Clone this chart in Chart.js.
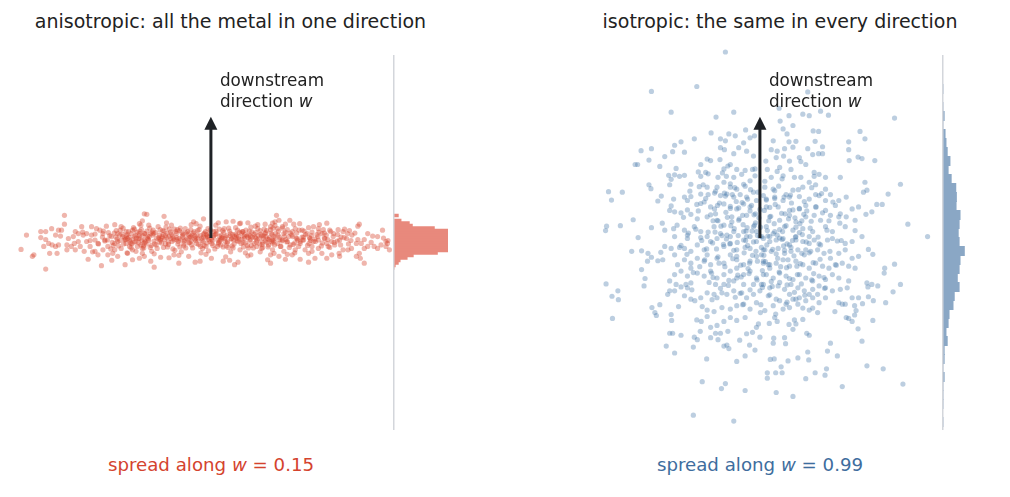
<!DOCTYPE html>
<html>
<head>
<meta charset="utf-8">
<script src="https://cdn.jsdelivr.net/npm/chart.js@4.4.1/dist/chart.umd.min.js"></script>
<style>
  body { margin: 0; background: #fff; width: 1010px; height: 497px; overflow: hidden; position: relative; font-family: 'DejaVu Sans', sans-serif; }
  canvas { position: absolute; }
  .lbl { position: absolute; line-height: 22px; white-space: nowrap; transform: translateX(-50%); }
  .ttl { font-size: 19px; color: #222; top: 10px; }
  .note { font-size: 18.2px; top: 454px; }
</style>
</head>
<body>
<div class="lbl ttl" style="left:230.5px">anisotropic: all the metal in one direction</div>
<div class="lbl ttl" style="left:780px">isotropic: the same in every direction</div>
<div class="lbl note" style="left:211px;color:#d4432e">spread along <i>w</i> = 0.15</div>
<div class="lbl note" style="left:760px;color:#3e6d9e">spread along <i>w</i> = 0.99</div>

<canvas id="scatL" width="378" height="400" style="left:15px;top:40px"></canvas>
<canvas id="histL" width="55" height="400" style="left:393px;top:40px"></canvas>
<canvas id="scatR" width="378" height="400" style="left:565px;top:40px"></canvas>
<canvas id="histR" width="55" height="400" style="left:942px;top:40px"></canvas>

<script>
// --- data: [across, w] pairs
var anisoPoints = [
  // far left, sparse
  [-2.97,0.46],[-2.97,0.28],[-3.74,0.06],[-3.85,-0.23],[-3.62,-0.37],[-3.59,-0.34],[-3.35,-0.63],[-3.45,0.13],[-3.35,0.13],
  [-3.23,0.19],[-3.09,0.16],[-3.03,0.16],[-3.15,0.06],[-3.05,0.04],[-3.45,0.01],[-3.35,-0.03],[-3.29,-0.11],[-3.22,-0.14],
  [-3.39,-0.17],[-3.15,-0.17],[-3.09,-0.14],[-3.27,-0.31],[-3.12,-0.31],[-2.92,-0.14],[-2.89,-0.01],[-2.75,0.13],[-2.79,0.03],
  [-2.69,0.09],[-2.62,0.23],[-2.59,0.06],[-2.77,-0.11],[-2.75,-0.24],[-2.65,-0.17],[-2.57,-0.27],[-2.49,-0.43],[-2.42,0.23],
  [-2.32,0.19],[-2.25,0.16],[-2.12,0.24],[-2.19,0.09],[-2.42,0.06],[-2.35,-0.04],[-2.52,-0.07],[-2.29,-0.11],[-2.15,-0.04],
  [-2.02,0.03],[-2.09,-0.17],[-2.19,-0.24],[-2.35,-0.27],[-1.95,-0.11],[-1.89,0.09],[-1.82,0.23],[-1.72,0.13],[-1.75,-0.04],
  [-1.82,-0.21],[-1.99,-0.31],[-1.89,-0.37],[-2.01,-0.45],[-1.69,-0.31],[-1.74,-0.54],[-1.59,-0.44],[-2.22,-0.56],[-1.62,-0.11],
  [-1.55,0.03],[-1.59,0.16],[-1.45,0.09],[-1.42,0.26],[-1.39,0.35],[-1.35,0.49],[-1.49,-0.17],[-1.39,-0.31],[-1.45,-0.41],
  [-1.35,-0.04],[-1.65,-0.17],[-1.52,-0.27],[-2.45,-0.17],[-2.29,-0.34],[-1.95,-0.24],[-2.09,-0.34],[-2.52,0.09],[-2.69,-0.07],
  [-2.83,-0.17],[-2.92,-0.24],[-1.89,-0.07],[-1.79,0.03],[-1.69,-0.01],[-1.62,0.09],[-1.52,-0.07],[-1.42,-0.14],[-1.72,-0.11],
  [-1.59,-0.24],[-1.45,-0.01],[-1.35,0.09],[-1.39,-0.21],
  [-2.05,0.05],[-1.98,-0.15],[-1.92,0.15],[-1.85,-0.05],[-1.78,0.20],[-1.66,0.02],[-1.58,-0.02],[-1.50,0.12],[-1.46,-0.10],
  [-1.40,-0.05],[-1.55,0.18],[-1.62,-0.20],[-1.70,0.07],[-2.20,0.02],[-2.45,-0.05],[-2.60,0.12],
  // middle, outliers
  [-1.30,0.48],[-0.95,0.44],[-0.15,0.39],[-0.35,0.33],[0.31,0.33],[0.75,0.31],[1.10,0.28],[0.58,0.29],[-1.35,-0.37],
  [-1.22,-0.47],[-1.15,-0.59],[-1.02,-0.39],[-0.65,-0.51],[-0.32,-0.49],[-0.22,-0.47],[0.25,-0.47],[0.38,-0.45],[0.55,-0.49],
  [0.48,-0.54],[0.81,-0.34],[1.15,-0.44],[1.21,-0.34],[-0.75,-0.34],[-0.45,-0.37],[0.01,-0.41],
  // middle, dense band
  [-1.38,0.05],[-1.33,-0.08],[-1.30,0.14],[-1.27,-0.02],[-1.24,0.20],[-1.21,-0.15],[-1.18,0.06],[-1.15,-0.06],[-1.12,0.11],
  [-1.09,-0.21],[-1.06,0.01],[-1.03,0.17],[-1.00,-0.10],[-0.97,0.07],[-0.94,-0.03],[-0.91,0.22],[-0.88,-0.18],[-0.85,0.03],
  [-0.82,0.12],[-0.79,-0.07],[-0.76,0.00],[-0.73,-0.25],[-0.70,0.09],[-0.67,-0.12],[-0.64,0.15],[-0.61,-0.04],[-0.58,0.05],
  [-0.55,-0.16],[-0.52,0.19],[-0.49,-0.01],[-0.46,0.08],[-0.43,-0.09],[-0.40,0.02],[-0.37,-0.20],[-0.34,0.13],[-0.31,-0.05],
  [-0.28,0.06],[-0.25,-0.13],[-0.22,0.24],[-0.19,0.00],[-0.16,-0.08],[-0.13,0.10],[-0.10,-0.17],[-0.07,0.04],[-0.04,-0.03],
  [-0.01,0.16],[0.02,-0.11],[0.05,0.02],[0.08,-0.22],[0.11,0.09],[0.14,-0.04],[0.17,0.18],[0.20,-0.14],[0.23,0.01],
  [0.26,0.11],[0.29,-0.07],[0.32,0.05],[0.35,-0.19],[0.38,0.14],[0.41,-0.02],[0.44,0.07],[0.47,-0.12],[0.50,0.21],
  [0.53,-0.05],[0.56,0.03],[0.59,-0.24],[0.62,0.10],[0.65,-0.09],[0.68,0.00],[0.71,0.16],[0.74,-0.15],[0.77,0.06],
  [0.80,-0.03],[0.83,0.12],[0.86,-0.20],[0.89,0.02],[0.92,-0.08],[0.95,0.19],[0.98,-0.01],[1.01,0.08],[1.04,-0.13],
  [1.07,0.04],[1.10,-0.06],[1.13,0.15],[1.16,-0.18],[1.19,0.01],[1.22,0.10],[1.25,-0.10],
  [-1.36,-0.20],[-1.29,0.00],[-1.22,0.09],[-1.14,-0.12],[-1.07,0.23],[-0.99,0.03],[-0.92,-0.12],[-0.84,0.18],[-0.77,-0.22],
  [-0.69,0.01],[-0.62,0.20],[-0.54,-0.06],[-0.47,0.13],[-0.39,-0.14],[-0.32,0.04],[-0.24,0.17],[-0.17,-0.21],[-0.09,0.07],
  [-0.02,-0.07],[0.06,0.13],[0.13,-0.17],[0.21,0.06],[0.28,-0.01],[0.36,0.20],[0.43,-0.16],[0.51,0.00],[0.58,0.12],
  [0.66,-0.18],[0.73,0.04],[0.81,0.22],[0.88,-0.11],[0.96,0.05],[1.03,-0.21],[1.11,0.11],[1.18,-0.03],[1.26,0.20],
  [-1.31,-0.12],[-1.17,0.16],[-1.02,-0.04],[-0.86,-0.08],[-0.71,0.13],[-0.56,0.08],[-0.41,0.17],[-0.26,-0.02],[-0.11,0.13],
  [0.04,-0.15],[0.18,0.03],[0.33,-0.10],[0.48,0.03],[0.63,-0.02],[0.78,0.14],[0.93,-0.17],[1.08,0.18],[1.23,-0.07],
  [-1.26,0.26],[-0.60,-0.28],[0.10,0.26],[0.70,-0.30],[-0.20,-0.30],[0.95,0.27],
  [-2.35,0.08],[-2.28,-0.12],[-2.18,0.14],[-2.10,-0.04],[-2.03,-0.22],[-1.96,0.10],[-1.90,-0.02],[-1.84,0.16],[-1.77,-0.12],
  [-1.71,0.04],[-1.64,-0.08],[-1.57,0.21],[-1.51,0.00],[-1.44,0.14],[-1.37,-0.16],[-1.34,0.09],[-1.26,-0.05],[-1.19,0.12],
  [-1.11,-0.14],[-1.04,0.06],[-0.96,-0.19],[-0.89,0.10],[-0.81,-0.01],[-0.74,0.18],[-0.66,-0.07],[-0.59,0.11],[-0.51,-0.20],
  [-0.44,0.01],[-0.36,0.10],[-0.29,-0.11],[-0.21,0.05],[-0.14,-0.15],[-0.06,0.19],[0.01,-0.02],[0.09,0.07],[0.16,-0.09],
  [0.24,0.15],[0.31,-0.16],[0.39,0.04],[0.46,-0.04],[0.54,0.16],[0.61,-0.11],[0.69,0.07],[0.76,-0.20],[0.84,0.02],
  [0.91,0.11],[0.99,-0.12],[1.06,0.00],[1.14,-0.09],[1.21,0.17],[1.29,-0.14],[1.36,0.06],[1.44,-0.06],[1.51,0.12],
  [1.59,-0.19],[1.66,0.03],[1.74,0.10],[1.81,-0.07],[1.89,0.14],[1.96,-0.15],[2.04,0.05],[2.11,-0.02],[2.19,0.12],
  [2.26,-0.10],[2.34,0.06],[2.41,-0.19],[2.49,0.09],[2.56,-0.06],[2.64,0.02],[2.71,0.18],[2.79,-0.12],[2.86,0.06],
  [-1.00,0.00],[-0.70,-0.03],[-0.40,-0.06],[-0.10,0.01],[0.20,-0.03],[0.50,0.08],[0.80,0.04],[1.10,0.09],[1.40,-0.03],
  [1.70,-0.10],[2.00,0.01],[2.30,0.00],[-1.20,-0.27],[-0.80,0.26],[-0.30,0.29],[0.40,-0.28],[0.90,0.24],[1.30,0.25],
  [1.70,-0.30],[2.20,0.27],[-0.05,-0.26],[0.60,0.30],[-0.95,0.14],[-0.55,-0.12],[-0.15,0.08],[0.25,-0.18],[0.65,0.13],
  [1.05,-0.19],[1.45,0.20],[1.85,0.02],[-1.55,-0.08],[-1.75,0.00],
  [-2.15,-0.06],[-2.08,0.11],[-2.00,-0.09],[-1.93,0.02],[-1.87,-0.16],[-1.80,0.08],[-1.73,-0.03],[-1.67,0.13],[-1.60,-0.12],
  [-1.53,0.06],[-1.47,-0.01],[-1.41,0.17],[-1.35,-0.10],[-1.28,0.04],[-1.23,-0.19],[-1.16,0.09],[-1.10,0.00],[-1.04,-0.08],
  [-0.98,0.15],[-0.92,0.05],[-0.86,-0.13],[-0.80,0.08],[-0.75,-0.04],[-0.68,0.17],[-0.63,-0.18],[-0.57,0.02],[-0.50,0.10],
  [-0.45,-0.10],[-0.38,0.06],[-0.33,-0.02],[-0.27,0.15],[-0.21,-0.17],[-0.15,0.02],[-0.08,-0.10],[-0.03,0.09],[0.03,-0.05],
  [0.10,0.14],[0.15,-0.12],[0.22,0.00],[0.27,0.19],[0.34,-0.07],[0.40,0.09],[0.45,-0.20],[0.52,0.05],[0.57,-0.02],
  [0.64,0.13],[0.70,-0.10],[0.75,0.01],[0.82,-0.15],[0.87,0.08],[0.94,-0.04],[1.00,0.15],[1.05,-0.09],[1.12,0.03],
  [1.17,-0.14],[1.24,0.07],[1.30,-0.01],[1.37,0.14],[1.42,-0.17],[1.49,0.03],[1.54,-0.08],[1.61,0.10],[1.67,-0.13],
  [1.73,0.00],[1.79,0.16],[1.86,-0.04],[1.92,0.07],[1.99,-0.11],[2.05,0.12],[2.12,-0.07],[2.17,0.03],[2.24,-0.16],
  [2.30,0.10],[2.37,-0.03],[2.43,0.13],[2.50,-0.09],[2.57,0.07],[2.63,-0.14],[2.70,0.01],[2.77,0.09],[2.84,-0.05],
  [2.92,0.10],
  [-1.05,-0.02],[-0.90,0.01],[-0.78,0.04],[-0.65,-0.01],[-0.52,-0.04],[-0.42,0.03],[-0.30,0.00],[-0.18,-0.05],[-0.06,0.02],
  [0.06,0.05],[0.18,-0.06],[0.30,0.02],[0.42,-0.01],[0.55,-0.07],[0.67,0.04],[0.79,-0.05],[0.91,0.00],[1.03,0.05],
  [1.15,-0.02],[1.27,-0.06],[1.39,0.02],[1.52,-0.03],[1.64,0.06],[1.76,-0.04],[1.88,0.02],[2.02,-0.05],[2.15,0.07],
  [-1.25,0.03],[-1.45,0.05],[-1.65,-0.04],[-1.85,0.06],
  [-1.95,0.27],[-1.70,-0.30],[-1.45,0.29],[-1.15,-0.32],[-0.90,0.31],[-0.65,-0.35],[-0.40,0.27],[-0.10,-0.33],[0.15,0.31],
  [0.45,0.34],[0.75,-0.36],[1.00,-0.28],[1.25,0.30],[1.55,-0.33],[1.80,0.29],[2.05,-0.27],[2.35,0.30],[2.60,-0.31],
  [-2.40,-0.28],[0.30,-0.38],[-0.85,-0.40],[1.60,0.36],
  // right part
  [1.33,0.46],[1.38,0.36],[1.30,0.33],[1.51,0.28],[1.45,0.23],[1.68,0.28],[1.71,0.19],[1.85,0.16],[1.98,0.21],
  [2.08,0.23],[2.18,0.19],[2.28,0.17],[2.41,0.16],[2.58,0.17],[2.68,0.13],[2.81,0.15],[2.98,0.24],[3.01,0.28],
  [3.18,0.09],[3.28,0.04],[3.38,0.03],[3.48,0.16],[3.55,-0.07],[3.59,-0.05],[3.25,-0.09],[3.11,-0.03],[2.98,-0.03],
  [3.05,-0.11],[2.95,-0.11],[2.85,-0.21],[2.78,-0.24],[2.68,-0.24],[3.18,-0.17],[3.31,-0.17],[3.38,-0.21],[3.45,-0.14],
  [3.55,-0.17],[3.11,-0.21],[3.01,-0.31],[2.95,-0.37],[3.03,-0.41],[3.11,-0.51],[2.61,-0.37],[2.45,-0.34],[2.35,-0.41],
  [2.25,-0.31],[2.11,-0.41],[1.98,-0.49],[1.81,-0.43],[1.65,-0.34],[1.51,-0.43],[1.38,-0.37],[1.21,-0.51],[1.25,-0.24],
  [1.35,-0.11],[1.45,-0.04],[1.58,0.03],[1.75,-0.01],[1.88,-0.04],[2.01,-0.01],[2.18,-0.04],[2.31,-0.01],[2.48,0.03],
  [2.61,-0.04],[2.75,-0.01],[1.31,0.09],[1.48,0.09],[1.61,-0.14],[1.78,-0.17],[1.91,-0.24],[2.05,-0.17],[2.18,-0.21],
  [2.38,-0.17],[2.51,-0.14],[1.25,-0.04],[1.21,0.23],[2.45,-0.07],[3.58,-0.11],[3.62,-0.24],[3.50,0.00],
  [1.28,0.03],[1.41,-0.17],[1.55,-0.07],[1.65,0.13],[1.81,-0.11],[1.95,0.09],[2.08,-0.07],[2.25,0.09],[2.35,-0.11],
  [1.28,-0.31],[1.48,-0.27],[1.71,-0.24],[1.98,-0.31],[1.55,0.17],[1.35,0.19]
];

var isoPoints = [
  // upper left
  [-0.70,3.77],[-2.20,2.97],[-1.28,3.07],[-1.80,2.55],[-0.53,2.55],[-0.89,2.45],[-0.99,2.13],[-0.63,2.11],[-0.29,2.19],
  [-1.33,2.01],[-1.60,1.95],[-1.73,1.88],[-2.20,1.81],[-2.41,1.77],[-1.93,1.65],[-1.77,1.75],[-1.53,1.74],[-0.80,2.01],
  [-0.70,1.97],[-0.50,2.07],[-0.33,1.93],[-0.20,2.03],[-0.11,2.07],[-0.43,1.83],[-0.53,1.71],[-0.72,1.79],[-0.80,1.83],
  [-1.07,1.60],[-1.00,1.57],[-1.20,1.49],[-0.81,1.59],[-0.60,1.49],[-0.27,1.76],[-0.13,1.66],[-2.53,1.49],[-2.48,1.49],
  [-2.25,1.58],[-2.03,1.45],[-1.70,1.41],[-1.85,1.27],[-1.73,1.28],[-1.63,1.25],[-1.53,1.27],[-1.25,1.34],[-1.10,1.33],
  [-0.85,1.23],[-0.73,1.40],[-0.65,1.46],[-0.47,1.39],[-0.30,1.37],[-0.15,1.39],[-0.68,1.25],[-0.53,1.23],[-0.37,1.29],
  [-2.25,1.08],[-2.21,1.00],[-1.80,1.19],[-1.83,1.08],[-1.40,1.09],[-1.23,1.04],[-1.07,1.03],[-0.87,1.03],[-0.73,1.13],
  [-0.60,1.03],[-0.47,0.99],[-0.33,1.09],[-0.20,1.16],[-0.10,1.26],[-3.07,0.94],[-2.79,0.93],[-3.01,0.77],[-2.00,0.85],
  [-2.07,0.75],[-1.75,0.79],[-1.53,0.83],[-1.40,0.84],[-1.20,0.89],[-1.05,0.88],[-0.92,0.91],[-0.80,0.86],[-0.67,0.89],
  [-0.53,0.83],[-0.40,0.88],[-0.27,0.83],[-0.13,0.93],[-0.07,0.76],[-1.80,0.65],[-1.73,0.53],[-1.83,0.56],[-1.47,0.76],
  [-1.47,0.57],[-1.28,0.68],[-1.13,0.73],[-1.00,0.63],[-0.90,0.49],[-0.73,0.69],[-0.60,0.64],[-0.47,0.59],[-0.33,0.69],
  [-0.20,0.63],[-0.09,0.49],[-3.11,0.24],[-3.13,0.15],[-2.83,0.25],[-2.57,0.37],[-1.98,0.30],[-1.93,0.16],[-1.75,0.19],
  [-2.20,0.21],[-1.60,0.51],[-1.40,0.48],[-1.27,0.39],[-1.07,0.43],[-0.87,0.36],[-0.73,0.26],[-0.57,0.43],[-0.43,0.36],
  [-0.27,0.46],[-0.13,0.23],[-2.47,0.01],[-1.53,0.16],[-1.47,0.06],[-1.33,0.23],[-1.20,0.13],[-1.07,0.03],[-0.93,0.23],
  [-0.80,0.09],[-0.67,0.06],[-0.53,0.13],[-0.33,0.13],[-0.20,0.03],[-0.07,0.13],[-1.73,0.03],[-1.68,0.26],
  // upper right
  [0.97,2.96],[0.39,2.63],[0.59,2.48],[0.41,2.37],[0.67,2.28],[0.87,2.51],[1.00,2.48],[1.23,2.57],[1.39,2.49],
  [2.73,2.43],[0.47,2.21],[0.55,2.11],[1.08,2.17],[1.19,2.16],[0.27,1.97],[0.59,1.95],[0.73,1.96],[1.12,1.96],
  [1.80,1.95],[2.03,2.16],[2.13,2.01],[0.23,1.79],[0.35,1.76],[0.50,1.81],[0.67,1.84],[0.97,1.81],[1.27,1.85],
  [1.80,1.79],[1.81,1.57],[1.99,1.64],[2.07,1.61],[2.33,1.57],[1.07,1.69],[1.19,1.71],[1.27,1.71],[0.12,1.56],
  [0.33,1.63],[0.48,1.66],[0.60,1.56],[0.80,1.63],[0.83,1.55],[0.15,1.39],[0.40,1.43],[0.63,1.39],[0.93,1.49],
  [1.10,1.33],[1.20,1.29],[1.33,1.23],[1.63,1.23],[0.23,1.23],[0.47,1.26],[0.70,1.23],[0.83,1.23],[1.00,1.13],
  [0.10,1.03],[0.27,0.99],[0.53,0.88],[0.67,0.97],[0.87,1.03],[1.13,1.08],[1.33,0.99],[1.43,0.88],[1.60,0.76],
  [1.75,0.83],[2.13,1.13],[2.10,0.93],[2.17,0.97],[2.60,0.89],[2.85,1.09],[0.13,0.79],[0.30,0.83],[0.47,0.76],
  [0.60,0.83],[0.80,0.84],[1.00,0.79],[1.20,0.86],[1.33,0.76],[0.13,0.63],[0.37,0.63],[0.60,0.56],[0.80,0.59],
  [0.93,0.66],[1.13,0.63],[1.33,0.56],[1.53,0.66],[1.63,0.49],[1.87,0.59],[2.00,0.63],[2.15,0.48],[2.27,0.53],
  [2.37,0.68],[2.48,0.68],[0.20,0.43],[0.40,0.36],[0.60,0.46],[0.73,0.33],[0.93,0.43],[1.10,0.46],[1.23,0.36],
  [1.43,0.46],[1.60,0.43],[1.75,0.43],[1.93,0.36],[3.00,0.28],[0.13,0.23],[0.30,0.13],[0.50,0.23],[0.67,0.16],
  [0.87,0.19],[1.07,0.13],[1.33,0.23],[1.47,0.13],[1.73,0.23],[1.93,0.15],[2.07,0.03],[3.40,0.03],[0.20,0.03],
  [0.40,0.00],[1.00,0.03],[0.73,0.03],
  // lower left
  [-3.12,-0.93],[-3.00,-1.18],[-2.88,-1.07],[-2.87,-1.25],[-2.99,-1.63],[-2.60,-0.27],[-2.40,-0.26],[-2.40,-0.64],[-2.33,-0.82],
  [-2.35,-0.97],[-2.27,-0.31],[-2.20,-0.39],[-2.28,-0.47],[-2.07,-0.46],[-1.97,-0.44],[-1.93,-0.17],[-2.01,-0.29],[-1.80,-0.21],
  [-1.63,-0.19],[-2.19,-1.41],[-2.13,-1.51],[-2.10,-1.57],[-2.03,-1.35],[-1.80,-1.55],[-1.65,-1.39],[-1.79,-1.67],[-1.83,-1.93],
  [-1.77,-1.93],[-1.60,-1.97],[-1.90,-2.19],[-1.73,-2.33],[-1.33,-2.01],[-1.35,-2.21],[-1.27,-2.06],[-1.21,-1.89],[-1.28,-1.66],
  [-1.19,-1.69],[-1.07,-1.59],[-1.08,-2.45],[-1.00,-2.02],[-0.90,-1.93],[-0.85,-2.06],[-0.80,-1.93],[-0.65,-1.89],[-0.73,-2.19],
  [-0.67,-2.17],[-0.63,-2.24],[-0.47,-2.50],[-0.41,-2.07],[-0.30,-2.39],[-0.21,-2.17],[-0.10,-2.27],[-0.27,-1.94],[-0.15,-1.91],
  [-0.07,-1.81],[-0.03,-1.74],[0.01,-1.51],[-0.30,-1.61],[-0.47,-1.67],[-0.60,-1.61],[-0.73,-1.69],[-0.87,-1.77],[-1.00,-1.81],
  [-1.17,-1.39],[-1.07,-1.46],[-0.93,-1.49],[-0.77,-1.41],[-0.60,-1.44],[-0.47,-1.37],[-0.33,-1.34],[-0.20,-1.44],[-0.07,-1.31],
  [-1.17,-2.91],[-0.70,-2.95],[-0.78,-3.05],[-0.30,-3.09],[-1.35,-3.59],[-0.53,-3.71],
  [-1.83,-1.07],[-1.87,-1.14],[-1.73,-1.07],[-1.60,-0.99],[-1.50,-0.94],[-1.40,-0.91],[-1.53,-1.17],[-1.40,-1.24],[-1.32,-1.27],
  [-1.20,-1.21],[-1.07,-1.11],[-0.93,-1.14],[-0.87,-1.21],[-0.77,-1.11],[-0.67,-1.14],[-0.53,-1.07],[-0.37,-1.11],[-0.27,-1.21],
  [-0.13,-1.14],[0.00,-1.07],[-1.73,-0.74],[-1.60,-0.67],[-1.47,-0.77],[-1.40,-0.61],[-1.27,-0.71],[-1.13,-0.77],[-1.00,-0.67],
  [-0.87,-0.81],[-0.73,-0.74],[-0.60,-0.67],[-0.47,-0.81],[-0.33,-0.74],[-0.20,-0.67],[-0.07,-0.81],[0.07,-0.74],[-1.67,-0.54],
  [-1.53,-0.44],[-1.40,-0.51],[-1.27,-0.41],[-1.13,-0.47],[-1.00,-0.54],[-0.87,-0.41],[-0.73,-0.51],[-0.60,-0.34],[-0.47,-0.44],
  [-0.33,-0.54],[-0.20,-0.47],[-0.07,-0.37],[0.07,-0.51],[-1.53,-0.21],[-1.40,-0.27],[-1.27,-0.14],[-1.13,-0.24],[-1.00,-0.07],
  [-0.87,-0.01],[-0.73,-0.17],[-0.60,-0.11],[-0.47,-0.24],[-0.33,-0.04],[-0.20,-0.21],[-0.07,-0.07],[0.07,-0.24],[-1.47,-0.01],
  [-1.20,0.01],[-0.60,0.03],[-0.27,0.03],[0.00,0.03],[-1.83,-0.87],[-1.70,-0.94],[-1.47,-1.01],[-0.90,-0.94],[-0.73,-0.94],
  [-0.53,-0.87],[-0.33,-0.94],[-0.13,-0.94],[0.03,-0.94],[-0.47,-0.61],[-1.07,-0.34],[-1.73,-0.34],
  // lower right
  [2.20,-0.23],[2.29,-0.33],[2.53,-0.61],[2.52,-0.71],[2.73,-0.53],[2.85,-0.94],[2.70,-1.09],[2.55,-1.31],[2.39,-0.97],
  [2.27,-0.94],[2.17,-0.91],[2.19,-0.99],[2.00,-1.21],[2.30,-1.27],[2.20,-1.19],[2.08,-1.33],[1.92,-1.37],[1.95,-1.47],
  [1.87,-1.21],[1.73,-1.34],[1.60,-1.31],[1.67,-1.34],[1.52,-1.49],[1.75,-1.61],[1.80,-1.63],[1.87,-1.69],[1.92,-1.56],
  [1.99,-1.84],[2.29,-1.67],[2.07,-2.09],[1.43,-2.13],[1.37,-2.29],[1.57,-2.39],[0.97,-2.31],[0.99,-2.47],[0.77,-2.43],
  [0.57,-2.49],[0.21,-2.46],[0.29,-2.45],[0.43,-2.61],[0.45,-2.73],[0.15,-2.73],[0.15,-2.84],[0.32,-2.73],[0.93,-2.85],
  [1.12,-2.73],[1.32,-2.78],[1.35,-2.65],[1.67,-3.01],[2.17,-2.59],[2.50,-2.65],[2.90,-2.96],[0.33,-3.13],[0.67,-3.21],
  [0.95,-1.93],[1.00,-1.97],[0.28,-2.03],[0.27,-2.13],[0.50,-2.02],[0.52,-2.14],[0.87,-1.65],[0.70,-1.66],[0.73,-1.74],
  [0.67,-1.85],[0.59,-1.75],[0.32,-1.54],[0.30,-1.61],[0.19,-1.73],[0.35,-1.69],[0.47,-1.44],[0.60,-1.41],[0.77,-1.34],
  [0.87,-1.42],[1.00,-1.46],[1.07,-1.42],[1.17,-1.51],[1.20,-1.31],[1.33,-1.21],[1.07,-1.21],[0.93,-1.27],[0.80,-1.21],
  [0.67,-1.24],[0.53,-1.34],[0.40,-1.27],[0.27,-1.37],[0.10,-1.47],[0.00,-2.01],
  [0.07,-0.01],[0.20,-0.07],[0.33,-0.04],[0.47,-0.01],[0.60,-0.14],[0.73,-0.04],[0.87,-0.07],[1.00,-0.11],[1.10,-0.04],
  [1.23,-0.14],[1.37,-0.04],[1.47,-0.01],[1.57,-0.06],[1.73,-0.11],[1.87,-0.07],[0.10,-0.24],[0.23,-0.27],[0.37,-0.21],
  [0.50,-0.31],[0.63,-0.27],[0.77,-0.24],[0.90,-0.34],[1.03,-0.27],[1.17,-0.24],[1.30,-0.31],[1.43,-0.41],[1.60,-0.31],
  [1.73,-0.24],[1.87,-0.41],[2.00,-0.37],[0.07,-0.47],[0.20,-0.54],[0.33,-0.51],[0.47,-0.44],[0.60,-0.57],[0.73,-0.47],
  [0.87,-0.54],[1.00,-0.61],[1.13,-0.51],[1.27,-0.57],[1.40,-0.61],[1.53,-0.54],[1.67,-0.51],[1.80,-0.57],[1.93,-0.61],
  [0.13,-0.74],[0.27,-0.81],[0.40,-0.71],[0.53,-0.77],[0.67,-0.84],[0.80,-0.74],[0.93,-0.81],[1.07,-0.87],[1.20,-0.77],
  [1.33,-0.84],[1.47,-0.74],[1.60,-0.81],[1.80,-0.87],[0.07,-0.94],[0.20,-1.01],[0.37,-0.97],[0.50,-1.04],[0.63,-0.94],
  [0.77,-1.01],[0.90,-1.07],[1.07,-1.04],[1.20,-0.97],[1.33,-1.01],[1.47,-1.07],[1.63,-1.04],[1.77,-1.01],[0.17,-1.17],
  [0.33,-1.24],[0.60,-1.14],[0.73,-1.24],[1.00,-1.14],[1.17,-1.14],[0.20,-0.61],[0.03,-0.34],
  // centre, extra density
  [-0.95,0.35],[-0.88,-0.22],[-0.82,0.71],[-0.77,0.05],[-0.71,-0.58],[-0.66,0.42],[-0.61,-0.12],[-0.56,0.88],[-0.52,0.19],
  [-0.47,-0.37],[-0.43,0.61],[-0.38,-0.79],[-0.34,0.27],[-0.29,-0.05],[-0.25,0.79],[-0.21,-0.51],[-0.16,0.14],[-0.12,0.47],
  [-0.08,-0.27],[-0.04,0.93],[0.01,0.22],[0.05,-0.66],[0.09,0.56],[0.14,-0.14],[0.18,0.35],[0.23,-0.88],[0.27,0.09],
  [0.31,0.68],[0.36,-0.41],[0.40,0.17],[0.45,-0.03],[0.49,0.83],[0.54,-0.60],[0.58,0.39],[0.63,-0.19],[0.67,0.57],
  [0.72,0.02],[0.76,-0.74],[0.81,0.29],[0.85,-0.31],[0.90,0.74],[0.94,-0.08],
  [-1.12,-0.44],[-1.05,0.12],[-0.98,-0.71],[-0.92,0.59],[-0.85,-0.38],[-0.79,0.24],[-0.72,0.91],[-0.68,-0.02],[-0.63,-0.86],
  [-0.57,0.33],[-0.53,-0.25],[-0.48,0.74],[-0.44,0.05],[-0.39,-0.55],[-0.35,0.46],[-0.30,-0.19],[-0.26,0.21],[-0.22,-0.72],
  [-0.17,0.66],[-0.13,-0.08],[-0.09,0.31],[-0.05,-0.47],[0.00,0.58],[0.04,0.03],[0.08,-0.35],[0.13,0.77],[0.17,-0.54],
  [0.22,0.44],[0.26,-0.23],[0.30,0.96],[0.35,0.06],[0.39,-0.69],[0.44,0.50],[0.48,-0.16],[0.53,0.25],[0.57,-0.44],
  [0.62,0.87],[0.66,-0.05],[0.71,0.41],[0.75,-0.57],[0.80,0.11],[0.84,-0.93],[0.89,0.48],[0.93,-0.24],[1.02,0.20],
  [1.08,-0.50],[1.14,0.63],[1.20,-0.12],
  [-1.25,0.55],[-1.18,-0.05],[-1.10,0.80],[-1.03,-0.90],[-0.96,-0.10],[-0.90,0.95],[-0.60,1.10],[-0.30,1.05],[0.10,1.15],
  [0.45,1.20],[0.70,-1.10],[0.20,-1.15],[-0.20,-1.05],[-0.50,-1.20],[-0.80,-1.02],[1.25,0.90],[1.30,-0.80],[-1.35,-0.70],
  [1.05,1.02],[-1.20,1.25],[0.55,-1.30],[-0.10,1.40],[0.02,-1.35],[1.40,0.35],[-1.45,0.10],
  [-1.55,0.42],[-1.48,-0.33],[-1.42,0.95],[-1.38,-1.05],[-1.30,0.18],[-1.22,-0.58],[-1.15,1.08],[-1.08,-0.22],[-1.00,0.47],
  [-0.97,-1.25],[-0.91,0.12],[-0.86,0.66],[-0.83,-0.51],[-0.76,1.32],[-0.74,-0.13],[-0.69,0.52],[-0.64,-0.96],[-0.59,0.25],
  [-0.55,-0.42],[-0.51,1.02],[-0.46,-0.09],[-0.42,0.39],[-0.40,-1.12],[-0.36,0.72],[-0.32,-0.30],[-0.28,0.14],[-0.24,-0.62],
  [-0.19,0.98],[-0.15,-0.35],[-0.11,0.26],[-0.06,-0.85],[-0.02,0.41],[0.03,-0.19],[0.07,0.86],[0.11,-0.48],[0.16,0.04],
  [0.20,0.62],[0.25,-0.98],[0.29,0.29],[0.33,-0.32],[0.38,1.05],[0.42,-0.58],[0.46,0.13],[0.51,0.49],[0.55,-0.12],
  [0.60,-0.82],[0.64,0.71],[0.69,-0.36],[0.73,0.22],[0.78,0.98],[0.82,-0.52],[0.86,0.07],[0.91,-1.16],[0.95,0.55],
  [1.00,-0.30],[1.04,0.34],[1.09,-0.72],[1.13,0.88],[1.18,0.02],[1.22,-0.43],[1.27,0.51],[1.31,-1.02],[1.36,0.16],
  [1.42,-0.27],[1.48,0.73],[1.55,-0.55],[1.62,0.30],
  [-1.20,0.70],[-0.95,-0.80],[-0.70,0.85],[-0.45,-0.75],[-0.20,0.55],[0.05,-1.00],[0.30,0.80],[0.55,-0.95],[0.80,0.60],
  [1.05,-0.85],[-1.05,1.30],[-0.35,-1.35],[0.35,1.35],[1.10,1.25],[-1.60,-0.15],[1.65,-0.05],[-0.05,0.05],[0.15,0.15],
  [-0.25,-0.15],[0.50,-0.25],[-0.60,0.60],[0.85,0.35],[-0.85,0.35],[0.40,-0.90]
];

// marginal histograms of w (bin centre, count)
var anisoBinW = [0.45,0.40,0.35,0.30,0.25,0.20,0.15,0.10,0.05,0.00,-0.05,-0.10,-0.15,-0.20,-0.25,-0.30,-0.35,-0.40,-0.45,-0.50,-0.55,-0.60];
var anisoBinCount = [17,0,26,53,63,135,190,215,235,250,245,232,215,200,188,145,66,46,23,17,7,3];
var isoBinW = [2.98,2.80,2.62,2.44,2.26,2.08,1.90,1.72,1.54,1.36,1.18,1.00,0.82,0.64,0.46,0.28,0.10,-0.08,-0.26,
  -0.44,-0.62,-0.80,-0.98,-1.16,-1.34,-1.52,-1.70,-1.88,-2.06,-2.24,-2.42,-2.60,-2.78,-2.96,-3.14,-3.32,-3.50,-3.68];
var isoBinCount = [3,0,3,7,3,10,13,17,26,20,30,45,47,46,59,56,53,56,73,59,56,50,56,40,36,23,20,13,17,7,7,3,7,3,3,3,0,3];

var arrowLength = 2.46;

// --- axis ranges (data units)
var wRange = [-4.04, 3.96];
var spineW = [-3.84, 3.66];
var countMax = 180;

var RED = '214,69,48';
var BLUE = '59,110,165';

function toXY(pairs) {
    return pairs.map(function (p) { return { x: p[0], y: p[1] }; });
}

var arrowPlugin = {
    id: 'arrowNote',
    afterDatasetsDraw: function (chart) {
        var ctx = chart.ctx;
        var xs = chart.scales.x, ys = chart.scales.y;
        var x0 = xs.getPixelForValue(0);
        var yTail = ys.getPixelForValue(0);
        var yTip = ys.getPixelForValue(arrowLength);
        var head = 13;
        ctx.save();
        ctx.strokeStyle = '#1f2226';
        ctx.fillStyle = '#1f2226';
        ctx.lineWidth = 3;
        ctx.beginPath();
        ctx.moveTo(x0, yTail);
        ctx.lineTo(x0, yTip + head - 1);
        ctx.stroke();
        ctx.beginPath();
        ctx.moveTo(x0, yTip);
        ctx.lineTo(x0 - 6.5, yTip + head);
        ctx.lineTo(x0 + 6.5, yTip + head);
        ctx.closePath();
        ctx.fill();
        // label
        var tx = x0 + 9;
        ctx.fillStyle = '#222';
        ctx.font = '16.8px "DejaVu Sans"';
        ctx.textBaseline = 'alphabetic';
        ctx.fillText('downstream', tx, ys.getPixelForValue(3.08));
        var yb = ys.getPixelForValue(2.66);
        ctx.fillText('direction ', tx, yb);
        var w = ctx.measureText('direction ').width;
        ctx.font = 'italic 16.8px "DejaVu Sans"';
        ctx.fillText('w', tx + w, yb);
        ctx.restore();
    }
};

var spinePlugin = {
    id: 'spine',
    afterDatasetsDraw: function (chart) {
        var ctx = chart.ctx;
        var ys = chart.scales.y;
        var x = chart.chartArea.left + 0.75;
        ctx.save();
        ctx.strokeStyle = '#d3d6db';
        ctx.lineWidth = 1.5;
        ctx.beginPath();
        ctx.moveTo(x, ys.getPixelForValue(spineW[1]));
        ctx.lineTo(x, ys.getPixelForValue(spineW[0]));
        ctx.stroke();
        ctx.restore();
    }
};

function makeScatter(id, pairs, rgb, alpha, xMin, xMax) {
    return new Chart(document.getElementById(id), {
        type: 'scatter',
        data: {
            datasets: [{
                data: toXY(pairs),
                backgroundColor: 'rgba(' + rgb + ',' + alpha + ')',
                borderWidth: 0,
                pointRadius: 2.6,
                pointHoverRadius: 2.6,
                clip: false
            }]
        },
        options: {
            responsive: false,
            animation: false,
            events: [],
            layout: { padding: 0 },
            plugins: { legend: { display: false }, tooltip: { enabled: false } },
            scales: {
                x: { type: 'linear', min: xMin, max: xMax, display: false },
                y: { type: 'linear', min: wRange[0], max: wRange[1], display: false }
            }
        },
        plugins: [arrowPlugin]
    });
}

function makeHist(id, centers, counts, fill) {
    var rows = centers.map(function (c, i) { return { y: c, x: counts[i] }; });
    return new Chart(document.getElementById(id), {
        type: 'bar',
        data: {
            datasets: [{
                data: rows,
                backgroundColor: fill,
                borderWidth: 0,
                barPercentage: 1,
                categoryPercentage: 1,
                inflateAmount: 0.5
            }]
        },
        options: {
            indexAxis: 'y',
            responsive: false,
            animation: false,
            events: [],
            layout: { padding: 0 },
            plugins: { legend: { display: false }, tooltip: { enabled: false } },
            scales: {
                x: { type: 'linear', min: 0, max: countMax, display: false },
                y: { type: 'linear', min: wRange[0], max: wRange[1], offset: false, display: false }
            }
        },
        plugins: [spinePlugin]
    });
}

makeScatter('scatL', anisoPoints, RED, 0.4, -3.92, 3.64);
makeHist('histL', anisoBinW, anisoBinCount, '#e8897c');
makeScatter('scatR', isoPoints, BLUE, 0.34, -3.90, 3.66);
makeHist('histR', isoBinW, isoBinCount, '#8aa7c5');
</script>
</body>
</html>
